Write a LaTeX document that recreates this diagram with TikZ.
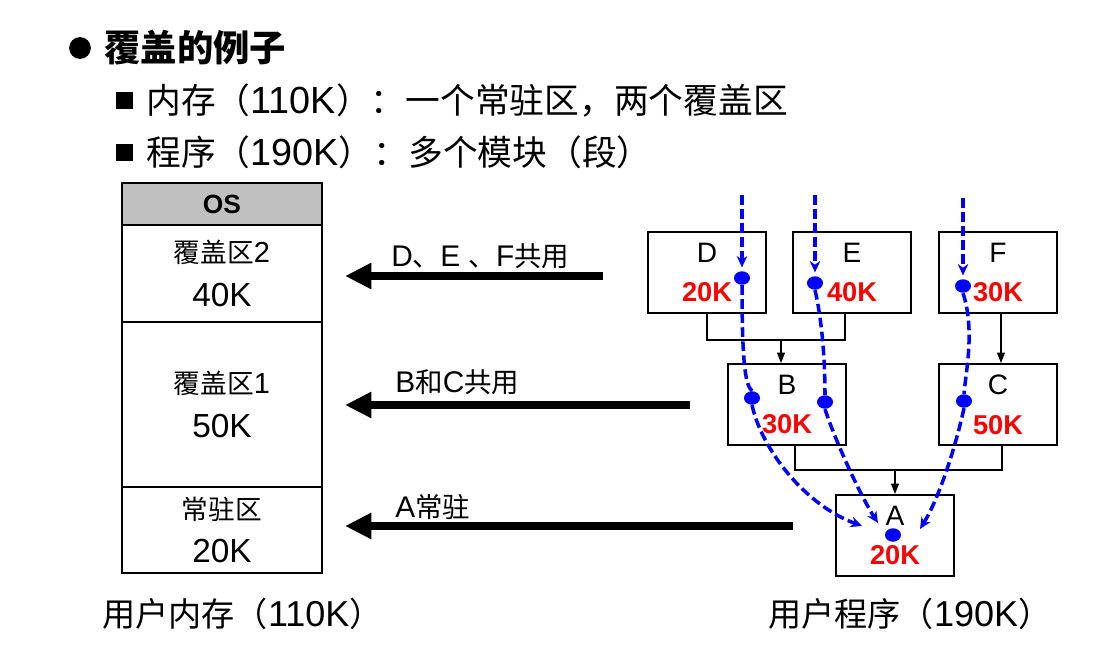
\documentclass[tikz,border=0pt]{standalone}
\usepackage{fontspec}
\setmainfont{Liberation Sans}
\newfontfamily\cjk{Noto Sans CJK SC}[Scale=0.92]
\usetikzlibrary{positioning,arrows.meta,shapes.geometric,calc}
\newcommand{\zh}[1]{{\cjk #1}}
\newcommand{\memnum}[1]{{\fontsize{19}{25}\selectfont #1}}
\newcommand{\modsize}[1]{{\color{red}\bfseries\fontsize{15.5}{22.7}\selectfont #1}}
\definecolor{osgray}{RGB}{192,192,192}
\tikzset{
  subline/.style={anchor=west, inner sep=0pt, font=\fontsize{21.5}{26}\selectfont},
  memcell/.style={draw, line width=1.1pt, minimum width=4cm, inner sep=0pt, outer sep=0pt,
    align=center, font=\fontsize{16.5}{25}\selectfont},
  modbox/.style={draw, line width=1.1pt, minimum width=2.36cm, minimum height=1.62cm,
    align=center, font=\fontsize{16}{22.7}\selectfont},
  arrlabel/.style={anchor=west, inner sep=0pt, font=\fontsize{17}{20}\selectfont},
  caption/.style={anchor=west, inner sep=0pt, font=\fontsize{20.5}{24}\selectfont},
  bigarrow/.style={line width=4.5pt, -{Triangle[length=15pt,width=14pt]}},
  link/.style={line width=0.8pt},
  linktip/.style={-{Triangle[length=6pt,width=4.5pt]}},
  flow/.style={blue, line width=2pt, dash pattern=on 5.5pt off 2.5pt},
  flowtip/.style={-{Stealth[length=6.5pt,width=6pt]}},
  flowdot/.style={ellipse, fill=blue, minimum width=0.32cm, minimum height=0.27cm, inner sep=0pt},
}
\begin{document}
\begin{tikzpicture}[x=0.02cm, y=-0.02cm]
  \useasboundingbox (0,0) rectangle (1113,659);

  % ---------- Heading and bullet lines ----------
  \fill (80,48) circle (6.2pt);
  \node[anchor=west, inner sep=0pt, font=\fontsize{22.5}{26}\selectfont] (title) at (104,48) {\zh{\bfseries 覆盖的例子}};
  \fill (116,92) rectangle (133,109);
  \node[subline] (memline) at (146,100) {\zh{内存（}110K\zh{）：一个常驻区，两个覆盖区}};
  \fill (116,144) rectangle (133,161);
  \node[subline] (progline) at (146,152) {\zh{程序（}190K\zh{）：多个模块（段）}};

  % ---------- Memory column ----------
  \node[memcell, fill=osgray, minimum height=0.84cm, font=\fontsize{15}{18}\selectfont\bfseries] (os) at (222,204) {OS};
  \node[memcell, minimum height=1.94cm, below=0pt of os] (ovl2) {\zh{覆盖区}2\\\memnum{40K}};
  \node[memcell, minimum height=3.3cm, below=0pt of ovl2] (ovl1) {\zh{覆盖区}1\\\memnum{50K}};
  \node[memcell, minimum height=1.72cm, below=0pt of ovl1] (res) {\zh{常驻区}\\\memnum{20K}};
  \node[caption] (memcap) at (102,614) {\zh{用户内存（}110K\zh{）}};

  % ---------- Load arrows ----------
  \coordinate (ar2s) at (603,276); \coordinate (ar2e) at (345,276);
  \coordinate (ar1s) at (690,405); \coordinate (ar1e) at (345,405);
  \coordinate (ar0s) at (793,526); \coordinate (ar0e) at (345,526);
  \draw[bigarrow] (ar2s) -- (ar2e);
  \draw[bigarrow] (ar1s) -- (ar1e);
  \draw[bigarrow] (ar0s) -- (ar0e);
  \node[arrlabel] (lbl2) at (391,256) {D\zh{、}E \zh{、}F\zh{共用}};
  \node[arrlabel] (lbl1) at (395,382) {B\zh{和}C\zh{共用}};
  \node[arrlabel] (lbl0) at (395,507) {A\zh{常驻}};

  % ---------- Program modules ----------
  \node[modbox] (D) at (707,272.5) {D\\\modsize{20K}};
  \node[modbox] (E) at (852,272.5) {E\\\modsize{40K}};
  \node[modbox] (F) at (998,272.5) {F\\\modsize{30K}};
  \node[modbox] (B) at (787,404.5) {B\\\modsize{30K}};
  \node[modbox] (C) at (998,404.5) {C\\\modsize{50K}};
  \node[modbox] (A) at (895,535.5) {A\\\modsize{20K}};
  \node[caption] (progcap) at (768,614) {\zh{用户程序（}190K\zh{）}};

  % tree links
  \coordinate (jDE) at (781,340);
  \coordinate (jBC) at (895,470);
  \draw[link] (D.south) |- (jDE) -| ($(E.south)+(-7,0)$);
  \draw[link, linktip] (jDE) -- (jDE |- B.north);
  \draw[link, linktip] ($(F.south)+(3,0)$) -- ($(C.north)+(3,0)$);
  \draw[link] ($(B.south)+(8,0)$) |- (jBC) -| ($(C.south)+(4,0)$);
  \draw[link, linktip] (jBC) -- (A.north);

  % ---------- Call paths ----------
  \coordinate (tD) at (742,195);
  \coordinate (tE) at (815,195);
  \coordinate (tF) at (963,198);
  \coordinate (eA1) at (862,526);
  \coordinate (eA2) at (878,523);
  \coordinate (eA3) at (920,529);
  \node[flowdot] (dD) at (742,278) {};
  \node[flowdot] (dE) at (815,283) {};
  \node[flowdot] (dF) at (963,286) {};
  \node[flowdot] (dB1) at (752,398) {};
  \node[flowdot] (dB2) at (825,402) {};
  \node[flowdot] (dC) at (964,401) {};
  \node[flowdot] (dA) at (893,535) {};
  \draw[flow, flowtip, shorten >=2pt] (tD) -- (dD.north);
  \draw[flow] (dD.south) .. controls (742,370) and (746,385) .. (dB1.north);
  \draw[flow, flowtip] (dB1.south) .. controls (762,450) and (805,505) .. (eA1);
  \draw[flow, flowtip, shorten >=2pt] (tE) -- (dE.north);
  \draw[flow] (dE.south) .. controls (822,320) and (825,360) .. (dB2.north);
  \draw[flow, flowtip] (dB2.south) .. controls (835,440) and (860,495) .. (eA2);
  \draw[flow, flowtip, shorten >=2pt] (tF) -- (dF.north);
  \draw[flow] (dF.south) .. controls (975,330) and (966,370) .. (dC.north);
  \draw[flow, flowtip] (dC.south) .. controls (955,450) and (938,500) .. (eA3);
\end{tikzpicture}
\end{document}
